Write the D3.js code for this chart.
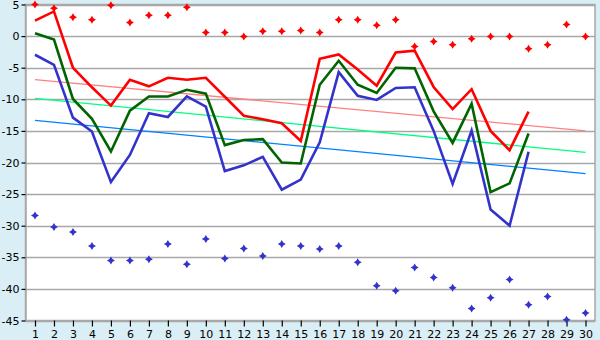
<!DOCTYPE html>
<html>
<head>
<meta charset="utf-8">
<script src="https://cdn.jsdelivr.net/npm/d3@7/dist/d3.min.js"></script>
<style>
  html, body { margin: 0; padding: 0; background: #d9eef5; }
  svg { display: block; }
  .tick text { font-family: "DejaVu Sans", Verdana, sans-serif; font-size: 11px; fill: #000; }
</style>
</head>
<body>
<svg id="chart" width="600" height="340"></svg>
<script>
// Categories along the x axis (1..30)
const categories = d3.range(1, 31);

// Y axis tick values
const yTicks = [5, 0, -5, -10, -15, -20, -25, -30, -35, -40, -45];

// Upper scatter markers (red)
const upperPoints = [5.0, 4.4, 3.0, 2.6, 4.9, 2.15, 3.3, 3.3, 4.55, 0.55,
                     0.55, -0.05, 0.75, 0.75, 0.9, 0.55, 2.6, 2.6, 1.7, 2.6,
                     -1.65, -0.85, -1.35, -0.4, -0.05, -0.05, -2.0, -1.35, 1.85, -0.05];

// Lower scatter markers (blue)
const lowerPoints = [-28.4, -30.2, -31.0, -33.2, -35.5, -35.5, -35.3, -32.9, -36.1, -32.1,
                     -35.2, -33.6, -34.8, -32.9, -33.2, -33.7, -33.2, -35.8, -39.5, -40.3,
                     -36.6, -38.2, -39.8, -43.1, -41.4, -38.5, -42.5, -41.2, -44.9, -43.8];

// Line series (categories 1..27)
const redLine = [2.45, 3.9, -5.0, -8.1, -11.0, -6.9, -7.95, -6.6, -6.9, -6.6,
                 -9.6, -12.6, -13.15, -13.8, -16.6, -3.6, -2.9, -5.3, -7.85, -2.6,
                 -2.3, -8.05, -11.55, -8.4, -15.0, -18.05, -11.95];
const greenLine = [0.45, -0.55, -9.95, -13.1, -18.25, -11.8, -9.55, -9.55, -8.5, -9.1,
                   -17.25, -16.45, -16.3, -20.0, -20.15, -7.7, -3.9, -7.7, -9.0, -5.0,
                   -5.1, -11.9, -16.9, -10.7, -24.7, -23.3, -15.4];
const blueLine = [-2.95, -4.55, -12.9, -15.1, -23.1, -18.8, -12.2, -12.8, -9.55, -11.15,
                  -21.35, -20.45, -19.1, -24.3, -22.7, -16.8, -5.7, -9.45, -10.1, -8.2,
                  -8.1, -15.0, -23.4, -14.95, -27.45, -30.0, -18.3];

// Trend lines: value at first and last category
const redTrend = [-6.9, -15.0];
const greenTrend = [-9.85, -18.4];
const blueTrend = [-13.35, -21.75];

const svg = d3.select("#chart");
const plot = { left: 25.5, right: 595, top: 4.5, bottom: 320.5 };

const x = d3.scalePoint().domain(categories).range([plot.left, plot.right]).padding(0.5);
const y = d3.scaleLinear().domain([-45, 5]).range([plot.bottom, plot.top]);

// Plot background
svg.append("rect")
  .attr("x", plot.left).attr("y", plot.top)
  .attr("width", plot.right - plot.left).attr("height", plot.bottom - plot.top)
  .attr("fill", "#fff");

// Horizontal gridlines
svg.append("g").selectAll("line").data(yTicks).join("line")
  .attr("x1", plot.left).attr("x2", plot.right)
  .attr("y1", d => Math.round(y(d)) + 0.5).attr("y2", d => Math.round(y(d)) + 0.5)
  .attr("stroke", "#a8a8a8").attr("stroke-width", 1.5);

// Frame
svg.append("rect")
  .attr("x", plot.left).attr("y", plot.top)
  .attr("width", plot.right - plot.left).attr("height", plot.bottom - plot.top)
  .attr("fill", "none").attr("stroke", "#a8a8a8").attr("stroke-width", 1.5);

// Axes
const xAxis = svg.append("g")
  .attr("transform", `translate(0,${plot.bottom})`)
  .call(d3.axisBottom(x).tickSize(6).tickSizeOuter(0).tickPadding(4));
xAxis.select(".domain").attr("stroke", "#a8a8a8").attr("stroke-width", 1.5);
xAxis.selectAll(".tick line").attr("stroke", "#000").attr("stroke-width", 1.2);

const yAxis = svg.append("g")
  .attr("transform", `translate(${plot.left},0)`)
  .call(d3.axisLeft(y).tickValues(yTicks).tickFormat(d => String(d)).tickSize(4).tickSizeOuter(0).tickPadding(2));
yAxis.select(".domain").attr("stroke", "#a8a8a8").attr("stroke-width", 1.5);
yAxis.selectAll(".tick line").attr("stroke", "#000").attr("stroke-width", 1.2);

// Trend lines
const trends = [
  { v: redTrend, color: "#ff8080" },
  { v: greenTrend, color: "#00ff80" },
  { v: blueTrend, color: "#0080ff" }
];
svg.append("g").selectAll("line").data(trends).join("line")
  .attr("x1", x(categories[0])).attr("x2", x(categories[categories.length - 1]))
  .attr("y1", d => y(d.v[0])).attr("y2", d => y(d.v[1]))
  .attr("stroke", d => d.color).attr("stroke-width", 1.3);

// Series lines
const line = d3.line().x((d, i) => x(categories[i])).y(d => y(d));
const series = [
  { v: redLine, color: "#ff0000" },
  { v: greenLine, color: "#006400" },
  { v: blueLine, color: "#3333cc" }
];
svg.append("g").selectAll("path").data(series).join("path")
  .attr("d", d => line(d.v))
  .attr("fill", "none").attr("stroke", d => d.color)
  .attr("stroke-width", 2.6).attr("stroke-linejoin", "miter");

// Scatter markers (small diamonds)
const diamond = "M0,-4L1.5,-1.5L4,0L1.5,1.5L0,4L-1.5,1.5L-4,0L-1.5,-1.5Z";
function markers(values, color) {
  svg.append("g").selectAll("path").data(values).join("path")
    .attr("d", diamond)
    .attr("transform", (d, i) => `translate(${x(categories[i])},${y(d)})`)
    .attr("fill", color);
}
markers(upperPoints, "#ff0000");
markers(lowerPoints, "#3333cc");
</script>
</body>
</html>
